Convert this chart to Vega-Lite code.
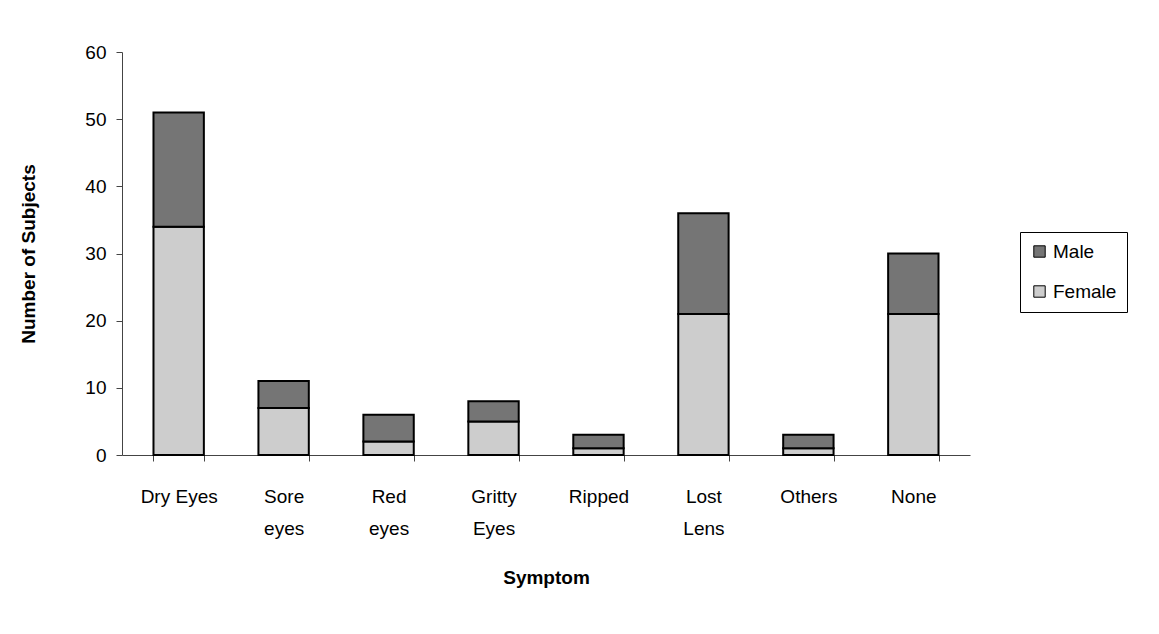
{
  "$schema": "https://vega.github.io/schema/vega-lite/v6.json",
  "autosize": "none",
  "width": 848,
  "height": 403,
  "padding": {"left": 122, "top": 52, "right": 189, "bottom": 179},
  "background": "white",
  "config": {
    "view": {"stroke": null},
    "font": "Liberation Sans"
  },
  "data": {
    "values": [
      {"Symptom": "Dry Eyes", "Sex": "Female", "Count": 34},
      {"Symptom": "Dry Eyes", "Sex": "Male", "Count": 17},
      {"Symptom": "Sore eyes", "Sex": "Female", "Count": 7},
      {"Symptom": "Sore eyes", "Sex": "Male", "Count": 4},
      {"Symptom": "Red eyes", "Sex": "Female", "Count": 2},
      {"Symptom": "Red eyes", "Sex": "Male", "Count": 4},
      {"Symptom": "Gritty Eyes", "Sex": "Female", "Count": 5},
      {"Symptom": "Gritty Eyes", "Sex": "Male", "Count": 3},
      {"Symptom": "Ripped", "Sex": "Female", "Count": 1},
      {"Symptom": "Ripped", "Sex": "Male", "Count": 2},
      {"Symptom": "Lost Lens", "Sex": "Female", "Count": 21},
      {"Symptom": "Lost Lens", "Sex": "Male", "Count": 15},
      {"Symptom": "Others", "Sex": "Female", "Count": 1},
      {"Symptom": "Others", "Sex": "Male", "Count": 2},
      {"Symptom": "None", "Sex": "Female", "Count": 21},
      {"Symptom": "None", "Sex": "Male", "Count": 9}
    ]
  },
  "mark": {"type": "bar", "stroke": "black", "strokeWidth": 2},
  "encoding": {
    "x": {
      "field": "Symptom",
      "type": "nominal",
      "sort": ["Dry Eyes", "Sore eyes", "Red eyes", "Gritty Eyes", "Ripped", "Lost Lens", "Others", "None"],
      "scale": {"paddingInner": 0.52, "paddingOuter": 0.3},
      "axis": {
        "title": "Symptom",
        "titleFontSize": 19,
        "titleFontWeight": "bold",
        "titleColor": "black",
        "titlePadding": 30,
        "labelAngle": 0,
        "labelFontSize": 19,
        "labelColor": "black",
        "labelPadding": 26,
        "labelLineHeight": 32,
        "labelExpr": "datum.label == 'Dry Eyes' ? 'Dry Eyes' : split(datum.label, ' ')",
        "tickBand": "extent",
        "tickSize": 6,
        "tickColor": "#444",
        "domainColor": "#444",
        "grid": false
      }
    },
    "y": {
      "field": "Count",
      "type": "quantitative",
      "stack": "zero",
      "scale": {"domain": [0, 60]},
      "axis": {
        "title": "Number of Subjects",
        "titleFontSize": 19,
        "titleFontWeight": "bold",
        "titleColor": "black",
        "titlePadding": 46,
        "values": [0, 10, 20, 30, 40, 50, 60],
        "labelFontSize": 19,
        "labelColor": "black",
        "labelPadding": 10,
        "tickSize": 6,
        "tickColor": "#444",
        "domainColor": "#444",
        "grid": false
      }
    },
    "color": {
      "field": "Sex",
      "type": "nominal",
      "scale": {"domain": ["Male", "Female"], "range": ["#757575", "#cdcdcd"]},
      "legend": {
        "title": null,
        "orient": "none",
        "legendX": 898,
        "legendY": 180,
        "labelFontSize": 19,
        "labelColor": "black",
        "symbolType": "square",
        "symbolSize": 130,
        "symbolStrokeColor": "black",
        "symbolStrokeWidth": 1,
        "rowPadding": 20,
        "padding": 10,
        "strokeColor": "black",
        "fillColor": "white"
      }
    },
    "order": {"field": "Sex", "sort": "ascending"}
  }
}
